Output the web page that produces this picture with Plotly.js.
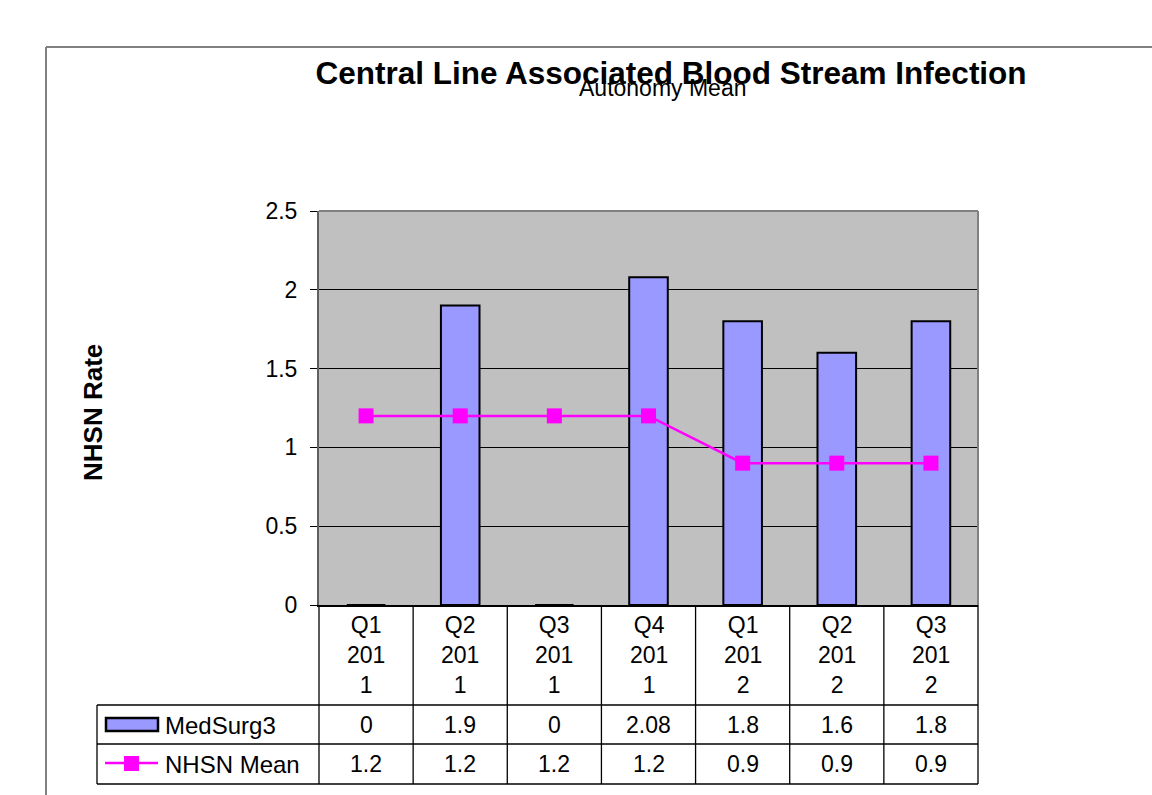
<!DOCTYPE html>
<html>
<head>
<meta charset="utf-8">
<script src="https://cdn.plot.ly/plotly-3.0.1.min.js"></script>
<style>html,body{margin:0;padding:0;background:#fff;}#chart{width:1152px;height:795px;}</style>
</head>
<body>
<div id="chart"></div>
<script>
// ---- data ----
var quarters = ["Q1", "Q2", "Q3", "Q4", "Q1", "Q2", "Q3"];
var years = ["2011", "2011", "2011", "2011", "2012", "2012", "2012"];
var medSurg3 = [0, 1.9, 0, 2.08, 1.8, 1.6, 1.8];
var nhsnMean = [1.2, 1.2, 1.2, 1.2, 0.9, 0.9, 0.9];
var seriesNames = ["MedSurg3", "NHSN Mean"];
var yTickVals = [0, 0.5, 1, 1.5, 2, 2.5];
var yTickText = ["0", "0.5", "1", "1.5", "2", "2.5"];

// ---- geometry helpers (pixels -> paper) ----
var W = 1152, H = 795;
var L = 319, R = 978, T = 211, B = 605;
function px(x) { return (x - L) / (R - L); }
function py(y) { return (B - y) / (B - T); }

var idx = quarters.map(function (q, i) { return i; });
// wrapped labels as displayed in the narrow table column
var catLabels = quarters.map(function (q, i) {
  return q + "<br>" + years[i].slice(0, 3) + "<br>" + years[i].slice(3);
});

var FONT = "Liberation Sans, Arial, sans-serif";

var traces = [
  {
    type: "bar", x: idx, y: medSurg3, name: seriesNames[0],
    width: 0.41,
    marker: { color: "#9999FF", line: { color: "#000000", width: 2 } },
    hoverinfo: "skip"
  },
  {
    type: "scatter", mode: "lines+markers", x: idx, y: nhsnMean, name: seriesNames[1],
    line: { color: "#FF00FF", width: 2.5 },
    marker: { symbol: "square", size: 15, color: "#FF00FF" },
    hoverinfo: "skip"
  }
];

var shapes = [];
var lineBlack = { color: "#000000", width: 1.3 };
// outer chart frame (top & left)
shapes.push({ type: "line", xref: "paper", yref: "paper", x0: px(46), x1: px(1160), y0: py(47), y1: py(47), line: { color: "#808080", width: 2 } });
shapes.push({ type: "line", xref: "paper", yref: "paper", x0: px(46), x1: px(46), y0: py(47), y1: py(800), line: { color: "#808080", width: 2 } });
// plot area top & right border
shapes.push({ type: "line", xref: "paper", yref: "paper", x0: 0, x1: 1, y0: 1, y1: 1, line: { color: "#808080", width: 2 } });
shapes.push({ type: "line", xref: "paper", yref: "paper", x0: 1, x1: 1, y0: 0, y1: 1, line: { color: "#808080", width: 2 } });
// table vertical lines at category boundaries
for (var k = 0; k <= quarters.length; k++) {
  shapes.push({ type: "line", xref: "paper", yref: "paper", x0: k / quarters.length, x1: k / quarters.length, y0: 0, y1: py(784), line: lineBlack });
}
// table horizontal lines
[705, 744, 784].forEach(function (y) {
  shapes.push({ type: "line", xref: "paper", yref: "paper", x0: px(97), x1: 1, y0: py(y), y1: py(y), line: lineBlack });
});
shapes.push({ type: "line", xref: "paper", yref: "paper", x0: px(97), x1: px(97), y0: py(705), y1: py(784), line: lineBlack });
// legend keys
shapes.push({ type: "rect", xref: "paper", yref: "paper", x0: px(106), x1: px(158), y0: py(718), y1: py(731), fillcolor: "#9999FF", line: { color: "#000000", width: 2.5 } });
shapes.push({ type: "line", xref: "paper", yref: "paper", x0: px(105), x1: px(158), y0: py(763), y1: py(763), line: { color: "#FF00FF", width: 2.5 } });
shapes.push({ type: "rect", xref: "paper", yref: "paper", x0: px(124), x1: px(139), y0: py(756), y1: py(771), fillcolor: "#FF00FF", line: { width: 0 } });

var annotations = [];
var tf = { family: FONT, size: 23, color: "#000000" };
// category header row
idx.forEach(function (i) {
  annotations.push({ xref: "x", yref: "paper", x: i, y: py(655), text: catLabels[i], showarrow: false, font: tf, align: "center", yanchor: "middle" });
});
// legend labels
annotations.push({ xref: "paper", yref: "paper", x: px(163), y: py(725), xanchor: "left", yanchor: "middle", text: seriesNames[0], showarrow: false, font: { family: FONT, size: 24, color: "#000000" } });
annotations.push({ xref: "paper", yref: "paper", x: px(163), y: py(764), xanchor: "left", yanchor: "middle", text: seriesNames[1], showarrow: false, font: { family: FONT, size: 24, color: "#000000" } });
// values
idx.forEach(function (i) {
  annotations.push({ xref: "x", yref: "paper", x: i, y: py(725), text: String(medSurg3[i]), showarrow: false, font: tf, yanchor: "middle" });
  annotations.push({ xref: "x", yref: "paper", x: i, y: py(764), text: String(nhsnMean[i]), showarrow: false, font: tf, yanchor: "middle" });
});
// overlapping subtitle (as in the original)
annotations.push({ xref: "paper", yref: "paper", x: px(662), y: py(88), text: "Autonomy Mean", showarrow: false, font: { family: FONT, size: 23, color: "#000000" }, xanchor: "center", yanchor: "middle" });
// y axis title
annotations.push({ xref: "paper", yref: "paper", x: px(93), y: py(413), text: "<b>NHSN Rate</b>", textangle: -90, showarrow: false, font: { family: FONT, size: 26, color: "#000000" }, xanchor: "center", yanchor: "middle" });

var layout = {
  width: W, height: H,
  margin: { l: L, r: W - R, t: T, b: H - B, pad: 0 },
  paper_bgcolor: "#FFFFFF",
  plot_bgcolor: "#C0C0C0",
  showlegend: false,
  title: {
    text: "<b>Central Line Associated Blood Stream Infection</b>",
    font: { family: FONT, size: 31.5, color: "#000000" },
    xref: "container", yref: "container",
    x: 671 / W, y: 1 - 73 / H, xanchor: "center", yanchor: "middle"
  },
  xaxis: {
    range: [-0.5, quarters.length - 0.5],
    showticklabels: false, showgrid: false, zeroline: false,
    showline: true, linecolor: "#000000", linewidth: 2, ticks: "",
    fixedrange: true
  },
  yaxis: {
    range: [0, 2.5],
    tickvals: yTickVals, ticktext: yTickText,
    ticks: "outside", ticklen: 7, tickcolor: "#000000", tickwidth: 1,
    showgrid: true, gridcolor: "#000000", gridwidth: 1,
    zeroline: false,
    showline: true, linecolor: "#606060", linewidth: 2,
    tickfont: { family: FONT, size: 23, color: "#000000" },
    ticklabelstandoff: 8,
    fixedrange: true
  },
  shapes: shapes,
  annotations: annotations
};

Plotly.newPlot("chart", traces, layout, { displayModeBar: false, staticPlot: true });
</script>
</body>
</html>
